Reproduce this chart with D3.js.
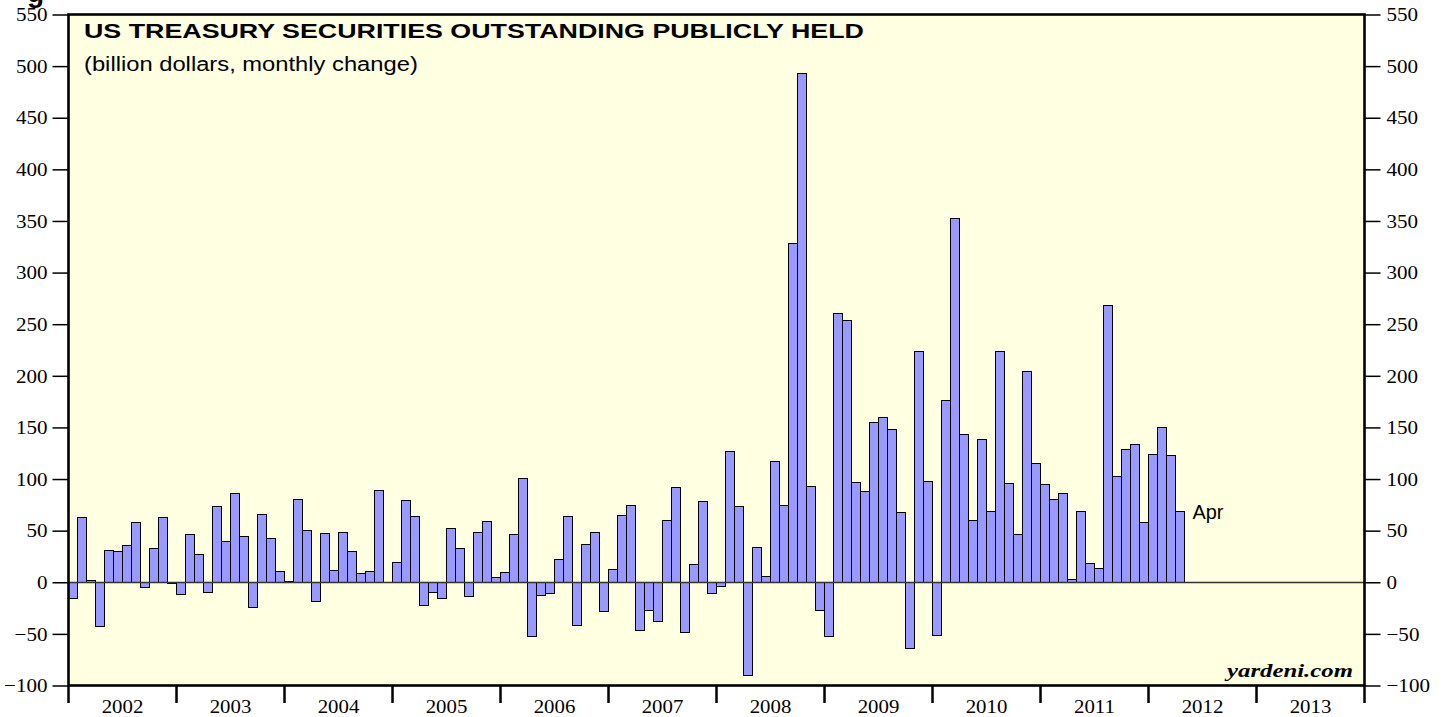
<!DOCTYPE html>
<html>
<head>
<meta charset="utf-8">
<script src="https://cdn.jsdelivr.net/npm/d3@7"></script>
<style>
  html, body { margin: 0; padding: 0; background: #fff; }
  svg { display: block; }
  .serif { font-family: 'Liberation Serif', 'Times New Roman', serif; font-size: 19.5px; fill: #000; }
  .sans { font-family: 'Liberation Sans', Arial, sans-serif; fill: #000; }
</style>
</head>
<body>
<svg id="chart" width="1446" height="717"></svg>
<script>
// monthly change, billion dollars, Jan 2002 .. Apr 2012
const changes2002 = [-15.5, 63, 2, -42, 31, 30, 36, 58, -5, 33, 63, -1];
const changes2003 = [-11, 47, 27, -9, 74, 40, 86, 45, -23.5, 66, 42.5, 11];
const changes2004 = [1, 80.5, 51, -17.7, 48, 11.6, 49, 30.6, 8.7, 11, 89, 0.5];
const changes2005 = [19.6, 80, 64, -22, -9, -15, 53, 33.5, -13, 49, 59, 5.5];
const changes2006 = [9.7, 46.4, 101, -52.5, -12.2, -10.6, 22.5, 64.4, -41.5, 37.4, 49, -28.3];
const changes2007 = [13, 64.7, 74.4, -46.7, -26.4, -38, 60.5, 92.7, -47.7, 17.7, 79.2, -10.3];
const changes2008 = [-4, 127.5, 74, -89.8, 34.5, 6.4, 117.9, 75.3, 329, 493.2, 93.7, -27];
const changes2009 = [-52.2, 261, 254, 97, 88, 155.5, 160.3, 148.4, 67.6, -64, 224, 98.5];
const changes2010 = [-51.5, 176.7, 352.9, 143.9, 60.2, 139.1, 68.9, 224, 96, 47, 204.7, 115.3];
const changes2011 = [95, 80.2, 86.3, 3.2, 68.6, 18.7, 13.8, 268.2, 102.7, 128.8, 133.6, 58];
const changes2012 = [124.6, 150.7, 123.6, 69.2];

const yearLabels = ['2002', '2003', '2004', '2005', '2006', '2007', '2008', '2009', '2010', '2011', '2012', '2013'];
const yTicks = [-100, -50, 0, 50, 100, 150, 200, 250, 300, 350, 400, 450, 500, 550];
const lastLabel = 'Apr';
const title = 'US TREASURY SECURITIES OUTSTANDING PUBLICLY HELD';
const subtitle = '(billion dollars, monthly change)';
const source = 'yardeni.com';

const changes = [].concat(changes2002, changes2003, changes2004, changes2005, changes2006,
  changes2007, changes2008, changes2009, changes2010, changes2011, changes2012);

const plot = { left: 68.5, right: 1364.5, top: 14.5, bottom: 685.5 };

const months = d3.timeMonth.range(new Date(+yearLabels[0], 0, 1), new Date(+yearLabels[yearLabels.length - 1] + 1, 0, 1));

const x = d3.scaleBand()
  .domain(months)
  .range([plot.left, plot.right])
  .padding(0);

const y = d3.scaleLinear()
  .domain([yTicks[0], yTicks[yTicks.length - 1]])
  .range([plot.bottom, plot.top]);

const svg = d3.select('#chart');

// the reference lettering is drawn a bit wide: squeeze/stretch horizontally
function scaleText (sel, k) {
  sel.each(function () {
    const t = d3.select(this);
    const x0 = +t.attr('x') || 0;
    t.attr('x', x0 / k).attr('transform', `scale(${k},1)`);
  });
}

function fitTo (sel, width) {
  sel.each(function () {
    scaleText(d3.select(this), width / this.getComputedTextLength());
  });
}

// cut off heading above the chart
svg.append('text')
  .attr('class', 'sans')
  .attr('x', 27)
  .attr('y', 2)
  .style('font-size', '28px')
  .style('font-weight', 'bold')
  .text('g');

// plot background
svg.append('rect')
  .attr('x', plot.left)
  .attr('y', plot.top)
  .attr('width', plot.right - plot.left)
  .attr('height', plot.bottom - plot.top)
  .attr('fill', '#ffffe2');

// bars
const y0 = Math.round(y(0)) + 0.5;
svg.append('g')
  .selectAll('rect')
  .data(changes)
  .join('rect')
  .attr('x', (d, i) => x(months[i]))
  .attr('width', x.bandwidth())
  .attr('y', d => d >= 0 ? Math.round(y(d)) + 0.5 : y0)
  .attr('height', d => Math.abs(y0 - (Math.round(y(d)) + 0.5)))
  .attr('fill', '#9999ff')
  .attr('stroke', '#000')
  .attr('stroke-width', 1);

// zero line
svg.append('line')
  .attr('x1', plot.left)
  .attr('x2', plot.right)
  .attr('y1', y0)
  .attr('y2', y0)
  .attr('stroke', '#333')
  .attr('stroke-width', 1.4);

// y axes, both sides
const left = svg.append('g')
  .attr('transform', `translate(${plot.left},0)`)
  .call(d3.axisLeft(y).tickValues(yTicks).tickSize(16).tickPadding(5));
const right = svg.append('g')
  .attr('transform', `translate(${plot.right},0)`)
  .call(d3.axisRight(y).tickValues(yTicks).tickSize(16).tickPadding(6));

[left, right].forEach(ax => {
  ax.select('.domain').remove();
  ax.selectAll('line').attr('stroke', '#000').attr('stroke-width', 1.5);
  ax.selectAll('text').attr('class', 'serif');
  scaleText(ax.selectAll('text'), 1.08);
});

// x axis: year boundaries and centred year labels
const bounds = yearLabels.map(s => x(new Date(+s, 0, 1))).concat([plot.right]);
svg.append('g')
  .selectAll('line')
  .data(bounds)
  .join('line')
  .attr('x1', d => d)
  .attr('x2', d => d)
  .attr('y1', plot.bottom)
  .attr('y2', 703)
  .attr('stroke', '#000')
  .attr('stroke-width', 2.5);

const yearText = svg.append('g')
  .selectAll('text')
  .data(yearLabels)
  .join('text')
  .attr('class', 'serif')
  .attr('x', (d, i) => (bounds[i] + bounds[i + 1]) / 2)
  .attr('y', 713)
  .attr('text-anchor', 'middle')
  .text(d => d);
scaleText(yearText, 1.07);

// plot frame
svg.append('rect')
  .attr('x', plot.left)
  .attr('y', plot.top)
  .attr('width', plot.right - plot.left)
  .attr('height', plot.bottom - plot.top)
  .attr('fill', 'none')
  .attr('stroke', '#000')
  .attr('stroke-width', 2.6);

// titles
svg.append('text')
  .attr('class', 'sans')
  .attr('x', 84)
  .attr('y', 38.5)
  .style('font-size', '19.5px')
  .style('font-weight', 'bold')
  .text(title)
  .call(fitTo, 780);

svg.append('text')
  .attr('class', 'sans')
  .attr('x', 84)
  .attr('y', 71)
  .style('font-size', '21px')
  .text(subtitle)
  .call(fitTo, 334);

// last point label
const lastIdx = changes.length - 1;
svg.append('text')
  .attr('class', 'sans')
  .attr('x', x(months[lastIdx]) + x.bandwidth() + 8)
  .attr('y', 519)
  .style('font-size', '19.5px')
  .text(lastLabel)
  .call(fitTo, 31);

// source
svg.append('text')
  .attr('class', 'serif')
  .attr('x', 1353)
  .attr('y', 677)
  .attr('text-anchor', 'end')
  .style('font-size', '19.5px')
  .style('font-weight', 'bold')
  .style('font-style', 'italic')
  .text(source)
  .call(fitTo, 126);
</script>
</body>
</html>
